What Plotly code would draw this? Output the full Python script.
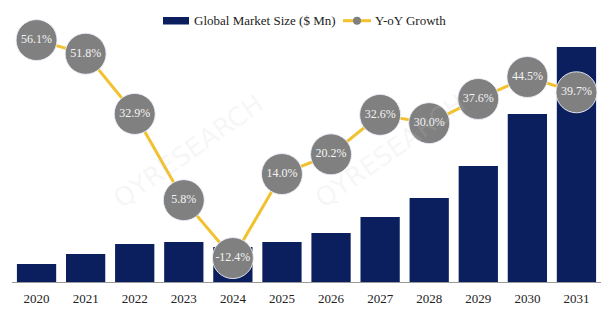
import plotly.graph_objects as go

# Market size by year and year-over-year growth
years = ["2020", "2021", "2022", "2023", "2024", "2025",
         "2026", "2027", "2028", "2029", "2030", "2031"]
market_size = [18, 28, 38, 40, 35, 40, 49, 65, 84, 116, 168, 235]
yoy_growth = [56.1, 51.8, 32.9, 5.8, -12.4, 14.0, 20.2, 32.6, 30.0, 37.6, 44.5, 39.7]
growth_labels = [f"{g:.1f}%" for g in yoy_growth]

NAVY = "#0b1f5e"
GOLD = "#f2c12e"
GREY = "#808080"
SERIF = "Times New Roman, Liberation Serif, serif"

W, H = 611, 322
L, R, T, B = 12, 10, 0, 40
PW, PH = W - L - R, H - T - B


def px(x):
    return (x - L) / PW


def py(y):
    return (H - B - y) / PH


fig = go.Figure()

fig.add_trace(go.Bar(
    x=years, y=market_size, name="Global Market Size ($ Mn)",
    marker=dict(color=NAVY, line=dict(width=0)),
    yaxis="y", showlegend=False,
))

fig.add_trace(go.Scatter(
    x=years, y=yoy_growth, yaxis="y2", mode="lines+markers+text",
    name="Y-oY Growth",
    line=dict(color=GOLD, width=3),
    marker=dict(size=41, color=GREY, line=dict(color="rgba(235,240,250,0.9)", width=1)),
    text=growth_labels, textposition="middle center",
    textfont=dict(family=SERIF, size=12, color="#f4f4f4"),
    showlegend=False, cliponaxis=False,
))

# legend drawn at the top centre
legend_y = py(20.7)
fig.add_shape(type="rect", xref="paper", yref="paper",
              x0=px(163), x1=px(189), y0=py(24.5), y1=py(17),
              fillcolor=NAVY, line=dict(width=0))
fig.add_annotation(x=px(192), y=legend_y, xref="paper", yref="paper",
                   text="Global Market Size ($ Mn)", showarrow=False,
                   xanchor="left", yanchor="middle",
                   font=dict(family=SERIF, size=13, color="#222"))
fig.add_shape(type="line", xref="paper", yref="paper",
              x0=px(343), x1=px(371), y0=legend_y, y1=legend_y,
              line=dict(color=GOLD, width=3))
fig.add_shape(type="circle", xref="paper", yref="paper",
              x0=px(353), x1=px(361), y0=py(24.7), y1=py(16.7),
              fillcolor=GREY, line=dict(width=0))
fig.add_annotation(x=px(373), y=legend_y, xref="paper", yref="paper",
                   text="Y-oY Growth", showarrow=False,
                   xanchor="left", yanchor="middle",
                   font=dict(family=SERIF, size=13, color="#222"))

# faint brand watermarks
for (wx, wy) in [(px(105), py(85)), (px(390), py(85))]:
    fig.add_annotation(
        x=wx, y=wy, xref="paper", yref="paper", text="QYRESEARCH",
        showarrow=False, textangle=-35,
        font=dict(family="DejaVu Sans", size=26, color="rgba(200,200,200,0.16)"),
    )

fig.update_layout(
    width=W, height=H,
    margin=dict(l=L, r=R, t=T, b=B, autoexpand=False),
    paper_bgcolor="white", plot_bgcolor="white",
    bargap=0.2,
    font=dict(family=SERIF, size=13, color="#222"),
    showlegend=False,
    xaxis=dict(
        type="category", range=[-0.5, len(years) - 0.5],
        showgrid=False, zeroline=False,
        showline=True, linecolor="#9a9a9a", linewidth=1,
        ticks="", tickfont=dict(family=SERIF, size=13, color="#222"),
        ticklabelstandoff=4, automargin=False,
    ),
    yaxis=dict(range=[0, PH], visible=False, showgrid=False, zeroline=False),
    yaxis2=dict(range=[-(PH - 218.6) / 3.182, 218.6 / 3.182], overlaying="y",
                visible=False, showgrid=False, zeroline=False),
)

fig.write_html("out.html")
